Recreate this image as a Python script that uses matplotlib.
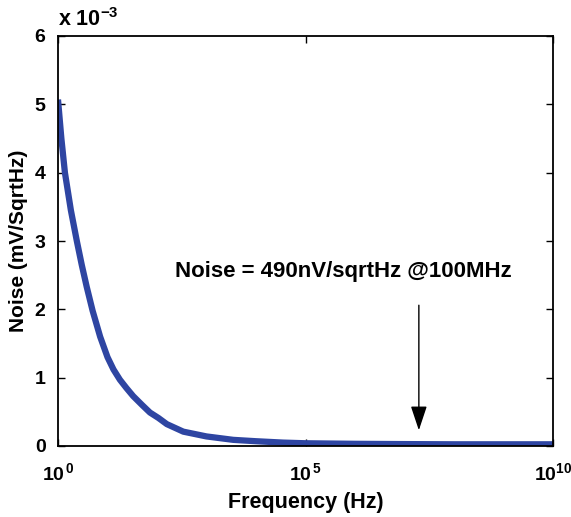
import numpy as np
import matplotlib
matplotlib.use("Agg")
import matplotlib.pyplot as plt
from matplotlib.ticker import FixedLocator, NullLocator, FuncFormatter

plt.rcParams['font.family'] = 'Liberation Sans'
plt.rcParams['font.weight'] = 'bold'
plt.rcParams['mathtext.fontset'] = 'custom'
plt.rcParams['mathtext.rm'] = 'Liberation Sans:bold'
plt.rcParams['mathtext.bf'] = 'Liberation Sans:bold'
plt.rcParams['mathtext.it'] = 'Liberation Sans:bold'

# noise spectral density vs frequency (mV/sqrtHz)
freqHz = [1, 1.17, 1.38, 1.82, 2.4, 3.02, 3.8, 5.0, 7.1, 10, 13.2, 17.8, 24, 33,
          50, 72, 107, 158, 340, 1000, 3470, 1e4, 3.5e4, 1e5, 1e6, 1e7, 1e8, 1e9, 1e10]
noiseV = [5.07e-3, 4.5e-3, 4.0e-3, 3.45e-3, 3.0e-3, 2.65e-3, 2.33e-3, 1.98e-3,
          1.6e-3, 1.3e-3, 1.12e-3, 0.97e-3, 0.85e-3, 0.73e-3, 0.6e-3, 0.49e-3,
          0.41e-3, 0.32e-3, 0.21e-3, 0.14e-3, 0.09e-3, 0.07e-3, 0.05e-3, 0.04e-3,
          0.032e-3, 0.028e-3, 0.025e-3, 0.025e-3, 0.025e-3]

yTicks = [0, 1e-3, 2e-3, 3e-3, 4e-3, 5e-3, 6e-3]
xTicks = [1e0, 1e5, 1e10]
xTickLabels = [r'$\mathbf{10^{\,0}}$', r'$\mathbf{10^{\,5}}$', r'$\mathbf{10^{10}}$']

noteText = "Noise = 490nV/sqrtHz @100MHz"
arrowX = 1.95e7

fig = plt.figure(figsize=(5.71, 5.17), dpi=100)
ax = fig.add_axes([58 / 571, 1 - 446 / 517, 495 / 571, 410 / 517])

ax.plot(freqHz, noiseV, color='#2E45A2', linewidth=4.5, solid_capstyle='butt',
        solid_joinstyle='round')
ax.set_xscale('log')
ax.set_xlim(1e0, 1e10)
ax.set_ylim(0, 6e-3)

ax.xaxis.set_major_locator(FixedLocator(xTicks))
ax.xaxis.set_minor_locator(NullLocator())
ax.set_xticklabels(xTickLabels)
ax.set_yticks(yTicks)
ax.yaxis.set_major_formatter(FuncFormatter(lambda v, p: "%d" % round(v * 1e3)))
ax.tick_params(direction='in', top=True, right=True, length=5, width=1,
               labelsize=14)
ax.tick_params(axis='y', pad=9)
ax.tick_params(axis='x', pad=12)
for s in ax.spines.values():
    s.set_linewidth(1.3)

ax.text(0.0, 1.012, r'x 10$^{\mathbf{-3}}$', transform=ax.transAxes,
        fontsize=15.5, fontweight='bold', ha='left', va='bottom')

ax.text(230, 2.55e-3, noteText, fontsize=16, fontweight='bold',
        ha='left', va='center')
ax.annotate('', xy=(arrowX, 0.23e-3), xytext=(arrowX, 2.06e-3),
            arrowprops=dict(arrowstyle='-|>,head_length=0.75,head_width=0.25',
                            color='black', lw=1, mutation_scale=20,
                            shrinkA=0, shrinkB=0))

ax.set_xlabel('Frequency (Hz)', fontsize=15.5, fontweight='bold', labelpad=5)
ax.set_ylabel('Noise (mV/SqrtHz)', fontsize=15, fontweight='bold', labelpad=5)

fig.savefig('out.png', dpi=100)
